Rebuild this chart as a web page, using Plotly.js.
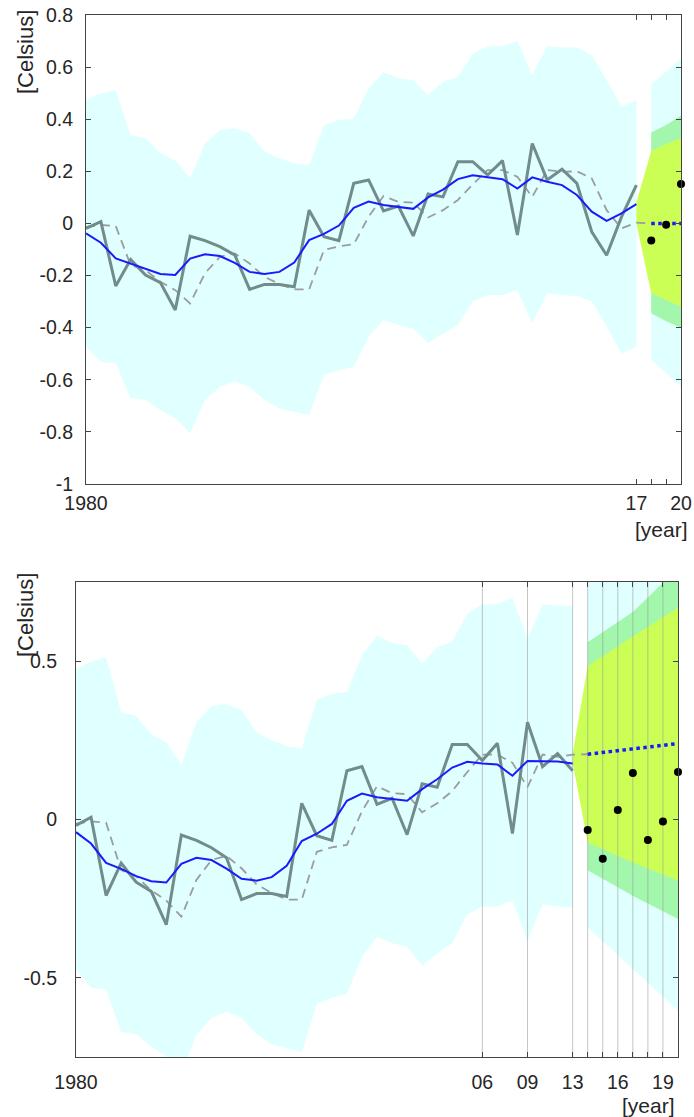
<!DOCTYPE html>
<html>
<head>
<meta charset="utf-8">
<script src="https://cdn.plot.ly/plotly-3.0.1.min.js"></script>
<style>
  html, body { margin: 0; padding: 0; background: #ffffff; }
  #chart { width: 694px; height: 1117px; }
</style>
</head>
<body>
<div id="chart"></div>
<script>
// ---------------- data ----------------
const years = [1980,1981,1982,1983,1984,1985,1986,1987,1988,1989,1990,1991,1992,1993,1994,1995,1996,1997,1998,1999,
               2000,2001,2002,2003,2004,2005,2006,2007,2008,2009,2010,2011,2012,2013,2014,2015,2016,2017];

// observed anomaly (grey solid)
const observed = [-0.019,0.007,-0.240,-0.138,-0.198,-0.227,-0.332,-0.049,-0.066,-0.089,-0.121,-0.253,-0.234,-0.234,-0.243,
                  0.051,-0.051,-0.066,0.154,0.167,0.048,0.067,-0.048,0.113,0.102,0.237,0.237,0.186,0.241,-0.044,
                  0.307,0.167,0.208,0.154,-0.032,-0.122,0.025,0.147];

// one-step prediction (grey dashed), top panel through 2018
const predYearsTop = [1980,1981,1982,1983,1984,1985,1986,1987,1988,1989,1990,1991,1992,1993,1994,1995,1996,1997,1998,1999,
                      2000,2001,2002,2003,2004,2005,2006,2007,2008,2009,2010,2011,2012,2013,2014,2015,2016,2017,2018];
const predTop = [-0.013,-0.006,-0.010,-0.160,-0.179,-0.224,-0.256,-0.307,-0.191,-0.128,-0.115,-0.154,-0.205,-0.232,-0.253,
                 -0.253,-0.102,-0.088,-0.080,0.026,0.105,0.083,0.080,0.023,0.051,0.090,0.150,0.205,0.205,0.179,
                 0.102,0.205,0.198,0.200,0.173,0.051,-0.019,0.003,0.000];
// bottom panel prediction through 2014
const predYearsBottom = [1980,1981,1982,1983,1984,1985,1986,1987,1988,1989,1990,1991,1992,1993,1994,1995,1996,1997,1998,1999,
                         2000,2001,2002,2003,2004,2005,2006,2007,2008,2009,2010,2011,2012,2013,2014];
const predBottom = [-0.013,-0.006,-0.010,-0.160,-0.179,-0.224,-0.256,-0.307,-0.191,-0.128,-0.115,-0.154,-0.205,-0.232,-0.253,
                    -0.253,-0.102,-0.088,-0.080,0.026,0.105,0.083,0.080,0.023,0.051,0.090,0.150,0.205,0.205,0.179,
                    0.102,0.205,0.198,0.205,0.206];

// smoothed level (blue), top panel 1980-2017
const smoothTop = [-0.038,-0.074,-0.134,-0.154,-0.177,-0.194,-0.198,-0.135,-0.118,-0.125,-0.151,-0.186,-0.194,-0.186,-0.150,
                   -0.064,-0.040,-0.008,0.060,0.084,0.071,0.064,0.056,0.100,0.130,0.170,0.185,0.177,0.170,0.134,
                   0.177,0.160,0.147,0.109,0.045,0.010,0.039,0.074];
// smoothed level (blue), bottom panel 1980-2013
const smoothBottom = [-0.040,-0.076,-0.137,-0.156,-0.179,-0.195,-0.199,-0.140,-0.121,-0.128,-0.155,-0.187,-0.193,-0.182,-0.146,
                      -0.068,-0.045,-0.014,0.059,0.082,0.070,0.064,0.059,0.096,0.127,0.164,0.182,0.177,0.174,0.138,
                      0.185,0.184,0.183,0.177];

// prediction interval (light cyan) 1980-2017
const bandHi = [0.474,0.499,0.512,0.339,0.327,0.269,0.243,0.173,0.307,0.358,0.365,0.346,0.275,0.250,0.231,0.224,0.378,0.397,0.403,0.518,
                0.580,0.557,0.550,0.493,0.544,0.563,0.650,0.680,0.680,0.700,0.570,0.680,0.675,0.675,0.646,0.550,0.448,0.474];
const bandLo = [-0.473,-0.531,-0.537,-0.671,-0.678,-0.716,-0.748,-0.805,-0.678,-0.627,-0.607,-0.627,-0.678,-0.710,-0.723,-0.735,-0.582,-0.563,-0.550,-0.435,
                -0.371,-0.390,-0.403,-0.460,-0.422,-0.390,-0.300,-0.275,-0.275,-0.256,-0.383,-0.268,-0.275,-0.278,-0.300,-0.396,-0.499,-0.473];

// ---- top panel forecast (from 2017) ----
const fcStartTop = 2017;
const fcApexTop = [0.000, 0.080];          // yellow apex [low, high] at 2017
const fcYearsTop = [2018, 2019, 2020];
const fcMeanTop = [0.000, 0.000, 0.000];
const fcYellowHiTop = [0.278, 0.305, 0.327];
const fcYellowLoTop = [-0.268, -0.294, -0.320];
const fcGreenHiTop = [0.349, 0.378, 0.413];
const fcGreenLoTop = [-0.345, -0.375, -0.400];
const fcCyanHiTop = [0.535, 0.582, 0.634];
const fcCyanLoTop = [-0.524, -0.575, -0.627];
const actualYearsTop = [2018, 2019, 2020];
const actualTop = [-0.065, -0.005, 0.151];

// ---- bottom panel forecast (from 2013) ----
const fcStartBottom = 2013;
const fcApexBottom = [0.180, 0.207];
const fcYearsBottom = [2014, 2017, 2020];
const fcMeanBottom = [0.206, 0.222, 0.240];
const fcYellowHiBottom = [0.485, 0.578, 0.669];
const fcYellowLoBottom = [-0.073, -0.136, -0.193];
const fcGreenHiBottom = [0.560, 0.655, 0.794];
const fcGreenLoBottom = [-0.160, -0.241, -0.314];
const fcCyanHiBottom = [0.760, 0.920, 1.080];
const fcCyanLoBottom = [-0.341, -0.472, -0.603];
const actualYearsBottom = [2014, 2015, 2016, 2017, 2018, 2019, 2020];
const actualBottom = [-0.033, -0.124, 0.030, 0.147, -0.065, -0.006, 0.150];

// ticks
const topXTickVals = [1980, 2017, 2018, 2019, 2020];
const topXTickText = ['1980', '17', '', '', '20'];
const topYTickVals = [0.8, 0.6, 0.4, 0.2, 0, -0.2, -0.4, -0.6, -0.8, -1];
const topYTickText = ['0.8', '0.6', '0.4', '0.2', '0', '-0.2', '-0.4', '-0.6', '-0.8', '-1'];
const bottomXTickVals = [1980, 2007, 2010, 2013, 2014, 2015, 2016, 2017, 2018, 2019];
const bottomXTickText = ['1980', '06', '09', '13', '', '', '16', '', '', '19'];
const bottomYTickVals = [0.5, 0, -0.5];
const bottomYTickText = ['0.5', '0', '-0.5'];

// ---------------- styling ----------------
const C_CYAN = '#E0FFFF';
const C_GREEN = '#A2F7AC';
const C_YELLOW = '#CCFF55';
const C_OBS = '#728C8C';
const C_PRED = '#9C9C9C';
const C_BLUE = '#1A1AFF';
const FONT = 'Liberation Sans, Arial, sans-serif';
const TXT = '#262626';

function poly(xs, lo, hi) {
  return { x: xs.concat(xs.slice().reverse()), y: hi.concat(lo.slice().reverse()) };
}
function fillTrace(p, color, xa, ya) {
  return { type: 'scatter', mode: 'lines', x: p.x, y: p.y, fill: 'toself', fillcolor: color,
           line: { width: 0, color: color }, hoverinfo: 'skip', showlegend: false, xaxis: xa, yaxis: ya };
}
function lineTrace(x, y, line, xa, ya) {
  return { type: 'scatter', mode: 'lines', x: x, y: y, line: line, hoverinfo: 'skip', showlegend: false, xaxis: xa, yaxis: ya };
}
function dotTrace(x, y, xa, ya) {
  return { type: 'scatter', mode: 'markers', x: x, y: y, marker: { color: '#000', size: 8 },
           cliponaxis: false, hoverinfo: 'skip', showlegend: false, xaxis: xa, yaxis: ya };
}

const traces = [];
const nBottom = years.indexOf(fcStartBottom) + 1;
const yearsB = years.slice(0, nBottom);

// ===== top panel =====
traces.push(fillTrace(poly(years, bandLo, bandHi), C_CYAN, 'x', 'y'));
traces.push(fillTrace(poly(fcYearsTop, fcCyanLoTop, fcCyanHiTop), C_CYAN, 'x', 'y'));
traces.push(fillTrace(poly(fcYearsTop, fcGreenLoTop, fcGreenHiTop), C_GREEN, 'x', 'y'));
traces.push(fillTrace(poly([fcStartTop].concat(fcYearsTop), [fcApexTop[0]].concat(fcYellowLoTop), [fcApexTop[1]].concat(fcYellowHiTop)), C_YELLOW, 'x', 'y'));
traces.push(lineTrace(predYearsTop, predTop, { color: C_PRED, width: 1.8, dash: '9px,6px' }, 'x', 'y'));
traces.push(lineTrace(years, observed, { color: C_OBS, width: 3 }, 'x', 'y'));
traces.push(lineTrace(years, smoothTop, { color: C_BLUE, width: 2 }, 'x', 'y'));
traces.push(lineTrace(fcYearsTop, fcMeanTop, { color: C_BLUE, width: 3.5, dash: 'dot' }, 'x', 'y'));
traces.push(dotTrace(actualYearsTop, actualTop, 'x', 'y'));

// ===== bottom panel =====
traces.push(fillTrace(poly(yearsB, bandLo.slice(0, nBottom), bandHi.slice(0, nBottom)), C_CYAN, 'x2', 'y2'));
traces.push(fillTrace(poly(fcYearsBottom, fcCyanLoBottom, fcCyanHiBottom), C_CYAN, 'x2', 'y2'));
traces.push(fillTrace(poly(fcYearsBottom, fcGreenLoBottom, fcGreenHiBottom), C_GREEN, 'x2', 'y2'));
traces.push(fillTrace(poly([fcStartBottom].concat(fcYearsBottom), [fcApexBottom[0]].concat(fcYellowLoBottom), [fcApexBottom[1]].concat(fcYellowHiBottom)), C_YELLOW, 'x2', 'y2'));
// vertical grid lines (from tick positions) above the fills
const yRangeB = [-0.75, 0.75];
const gx = [], gy = [];
bottomXTickVals.slice(1).forEach(v => { gx.push(v, v, null); gy.push(yRangeB[0], yRangeB[1], null); });
traces.push(lineTrace(gx, gy, { color: 'rgba(150,150,150,0.55)', width: 1 }, 'x2', 'y2'));
traces.push(lineTrace(predYearsBottom, predBottom, { color: C_PRED, width: 1.8, dash: '9px,6px' }, 'x2', 'y2'));
traces.push(lineTrace(yearsB, observed.slice(0, nBottom), { color: C_OBS, width: 3 }, 'x2', 'y2'));
traces.push(lineTrace(yearsB, smoothBottom, { color: C_BLUE, width: 2 }, 'x2', 'y2'));
traces.push(lineTrace(fcYearsBottom, fcMeanBottom, { color: C_BLUE, width: 3.5, dash: 'dot' }, 'x2', 'y2'));
traces.push(dotTrace(actualYearsBottom, actualBottom, 'x2', 'y2'));

const W = 694, H = 1117;
function axisCommon() {
  return {
    showline: true, linecolor: '#444', linewidth: 1, mirror: 'ticks',
    ticks: 'inside', ticklen: 5, tickwidth: 1, tickcolor: '#444',
    showgrid: false, zeroline: false, tickmode: 'array',
    tickfont: { family: FONT, size: 19.5, color: TXT }, fixedrange: true
  };
}

const layout = {
  width: W, height: H,
  margin: { l: 0, r: 0, t: 0, b: 0, pad: 0 },
  paper_bgcolor: '#ffffff', plot_bgcolor: '#ffffff',
  showlegend: false,
  font: { family: FONT, color: TXT },
  xaxis: Object.assign(axisCommon(), {
    domain: [86 / W, 681 / W], range: [1980, 2020], anchor: 'y',
    tickvals: topXTickVals, ticktext: topXTickText, ticklabelstandoff: 2
  }),
  yaxis: Object.assign(axisCommon(), {
    domain: [1 - 484 / H, 1 - 15 / H], range: [-1, 0.8], anchor: 'x',
    tickvals: topYTickVals, ticktext: topYTickText, ticklabelstandoff: 8
  }),
  xaxis2: Object.assign(axisCommon(), {
    domain: [76 / W, 678 / W], range: [1980, 2020], anchor: 'y2',
    tickvals: bottomXTickVals, ticktext: bottomXTickText, ticklabelstandoff: 8
  }),
  yaxis2: Object.assign(axisCommon(), {
    domain: [1 - 1057 / H, 1 - 582 / H], range: yRangeB, anchor: 'x2',
    tickvals: bottomYTickVals, ticktext: bottomYTickText, ticklabelstandoff: 14
  }),
  annotations: [
    { text: '[Celsius]', xref: 'paper', yref: 'paper', x: 25 / W, y: 1 - 8 / H, xanchor: 'center', yanchor: 'top',
      textangle: -90, showarrow: false, font: { family: FONT, size: 22, color: TXT } },
    { text: '[year]', xref: 'paper', yref: 'paper', x: 690 / W, y: 1 - 529 / H, xanchor: 'right', yanchor: 'middle',
      showarrow: false, font: { family: FONT, size: 21, color: TXT } },
    { text: '[Celsius]', xref: 'paper', yref: 'paper', x: 25 / W, y: 1 - 571 / H, xanchor: 'center', yanchor: 'top',
      textangle: -90, showarrow: false, font: { family: FONT, size: 22, color: TXT } },
    { text: '[year]', xref: 'paper', yref: 'paper', x: 677 / W, y: 1 - 1105 / H, xanchor: 'right', yanchor: 'middle',
      showarrow: false, font: { family: FONT, size: 21, color: TXT } }
  ]
};

Plotly.newPlot('chart', traces, layout, { staticPlot: true, displayModeBar: false });
</script>
</body>
</html>
